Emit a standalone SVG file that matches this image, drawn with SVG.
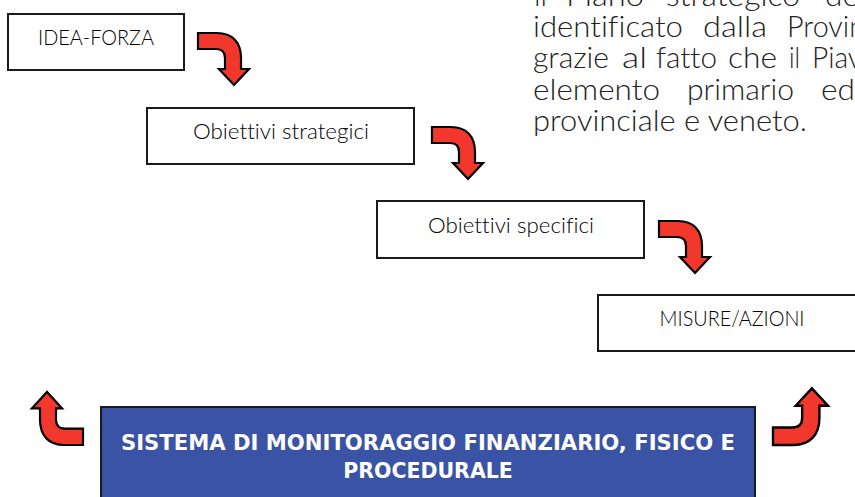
<svg xmlns="http://www.w3.org/2000/svg" width="855" height="497" viewBox="0 0 855 497">
<style>
text{font-variant-ligatures:none}
.b{fill:#fff;stroke:#1a1a1a;stroke-width:2}
.l{font-family:"Lato","Liberation Sans",sans-serif;font-weight:300;font-size:21px;fill:#000;text-anchor:middle}
.p{font-family:"Lato","Liberation Sans",sans-serif;font-weight:300;font-size:29px;fill:#222}
.a{fill:#f2382c;stroke:#000;stroke-width:2.2;stroke-linejoin:miter}
.m{font-family:"DejaVu Sans",sans-serif;font-weight:bold;font-size:20.5px;fill:#fff;text-anchor:middle}
</style>
<defs>
<path id="arrow" class="a" d="M0,0H19C34,0 43,9 43,25V36H51L36,52L21,36H27V25C27,19 24,16 18,16H0Z"/>
</defs>
<g id="paragraph">
<text class="p" y="6" x="534" textLength="13" lengthAdjust="spacingAndGlyphs">il</text>
<text class="p" y="6" x="566" textLength="78" lengthAdjust="spacingAndGlyphs">Piano</text>
<text class="p" y="6" x="666" textLength="134" lengthAdjust="spacingAndGlyphs">strategico</text>
<text class="p" y="6" x="825" textLength="34" lengthAdjust="spacingAndGlyphs">de</text>
<text class="p" y="37" x="533" textLength="150" lengthAdjust="spacingAndGlyphs">identificato</text>
<text class="p" y="37" x="703" textLength="64" lengthAdjust="spacingAndGlyphs">dalla</text>
<text class="p" y="37" x="787" textLength="78" lengthAdjust="spacingAndGlyphs">Provin</text>
<text class="p" y="68" x="533" textLength="76" lengthAdjust="spacingAndGlyphs">grazie</text>
<text class="p" y="68" x="622" textLength="25" lengthAdjust="spacingAndGlyphs">al</text>
<text class="p" y="68" x="656" textLength="61" lengthAdjust="spacingAndGlyphs">fatto</text>
<text class="p" y="68" x="728" textLength="49" lengthAdjust="spacingAndGlyphs">che</text>
<text class="p" y="68" x="789" textLength="11" lengthAdjust="spacingAndGlyphs">il</text>
<text class="p" y="68" x="812" textLength="50" lengthAdjust="spacingAndGlyphs">Piav</text>
<text class="p" y="100" x="533" textLength="127" lengthAdjust="spacingAndGlyphs">elemento</text>
<text class="p" y="100" x="687" textLength="107" lengthAdjust="spacingAndGlyphs">primario</text>
<text class="p" y="100" x="821" textLength="34" lengthAdjust="spacingAndGlyphs">ed</text>
<text class="p" y="131" x="533" textLength="274" lengthAdjust="spacingAndGlyphs">provinciale e veneto.</text>
</g>
<g id="node-idea"><rect class="b" x="8" y="14" width="176" height="56"/><text class="l" x="96" y="45" textLength="116" lengthAdjust="spacingAndGlyphs">IDEA-FORZA</text></g>
<g id="node-strategici"><rect class="b" x="147" y="108" width="267" height="56"/><text class="l" x="281" y="139" textLength="176" lengthAdjust="spacingAndGlyphs">Obiettivi strategici</text></g>
<g id="node-specifici"><rect class="b" x="377" y="201" width="267" height="57"/><text class="l" x="511" y="233" textLength="166" lengthAdjust="spacingAndGlyphs">Obiettivi specifici</text></g>
<g id="node-misure"><rect class="b" x="598" y="295" width="267" height="56"/><text class="l" x="732" y="326" textLength="145" lengthAdjust="spacingAndGlyphs">MISURE/AZIONI</text></g>
<g id="node-monitoraggio"><rect x="101" y="407" width="654" height="100" fill="#3a53a4" stroke="#1a1a1a" stroke-width="2"/><text class="m" x="428" y="450" textLength="614" lengthAdjust="spacingAndGlyphs">SISTEMA DI MONITORAGGIO FINANZIARIO, FISICO E</text><text class="m" x="428" y="478">PROCEDURALE</text></g>
<g id="connectors">
<use href="#arrow" x="198" y="33"/>
<use href="#arrow" x="432" y="127"/>
<use href="#arrow" x="659" y="221"/>
<use href="#arrow" transform="translate(83,445) scale(-1,-1.02)"/>
<use href="#arrow" transform="translate(773,445) scale(1.08,-1.09)"/>
</g>
</svg>
